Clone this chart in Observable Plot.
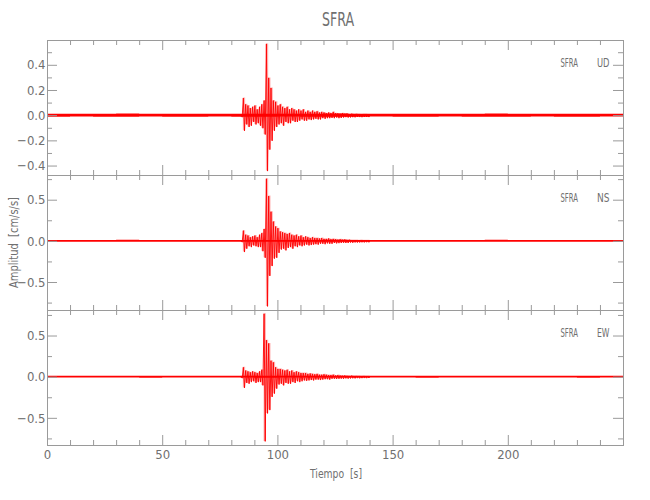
<!DOCTYPE html>
<html><head><meta charset="utf-8">
<script src="https://cdn.jsdelivr.net/npm/d3@7"></script>
<script src="https://cdn.jsdelivr.net/npm/@observablehq/plot@0.6"></script>
<style>
body{margin:0;background:#fff;}
#wrap{position:relative;width:650px;height:500px;overflow:hidden;}
#wrap svg{position:absolute;left:0;}
</style></head><body><div id="wrap"></div>
<script>
const station = "SFRA";
const components = ["UD", "NS", "EW"];
const xTitle = "Tiempo  [s]";
const yTitle = "Amplitud  [cm/s/s]";

// signed peak values read every 0.5 s from 84 s to 140 s
const eventStart = 84, eventStep = 0.5;
const udValues = [
  0.010,-0.012,
  0.14,-0.12,0.09,-0.07,0.08,-0.09,0.06,-0.08,0.07,-0.05,
  0.08,-0.07,0.05,-0.06,0.07,-0.08,0.09,-0.10,0.12,-0.15,
  0.57,-0.44,0.30,-0.27,0.22,-0.20,0.12,-0.12,0.11,-0.09,
  0.08,-0.07,0.09,-0.06,0.07,-0.08,0.06,-0.05,0.07,-0.06,
  0.05,-0.06,0.06,-0.04,0.05,-0.05,0.04,-0.05,0.05,-0.04,
  0.04,-0.03,0.05,-0.04,0.03,-0.04,0.04,-0.03,0.03,-0.035,
  0.04,-0.03,0.03,-0.025,0.035,-0.03,0.025,-0.03,0.03,-0.02,
  0.025,-0.025,0.02,-0.02,0.025,-0.02,0.02,-0.018,0.03,-0.02,
  0.02,-0.015,0.018,-0.02,0.015,-0.018,0.02,-0.015,0.015,-0.012,
  0.018,-0.015,0.012,-0.014,0.015,-0.012,0.012,-0.013,0.014,-0.010,
  0.012,-0.011,0.010,-0.012,0.011,-0.010,0.012,-0.010,0.010,-0.011,
  0.010
];
const nsValues = [
  0.010,-0.010,
  0.13,-0.13,0.08,-0.09,0.07,-0.06,0.05,-0.07,0.06,-0.05,
  0.07,-0.06,0.05,-0.07,0.08,-0.07,0.10,-0.12,0.15,-0.20,
  0.76,-0.79,0.55,-0.42,0.36,-0.30,0.24,-0.21,0.18,-0.20,
  0.16,-0.14,0.12,-0.10,0.11,-0.09,0.10,-0.11,0.09,-0.08,
  0.10,-0.07,0.08,-0.09,0.07,-0.06,0.08,-0.07,0.06,-0.05,
  0.07,-0.06,0.05,-0.05,0.06,-0.04,0.05,-0.05,0.04,-0.045,
  0.05,-0.04,0.04,-0.035,0.04,-0.04,0.035,-0.03,0.04,-0.03,
  0.03,-0.035,0.03,-0.025,0.035,-0.03,0.025,-0.03,0.03,-0.02,
  0.025,-0.025,0.02,-0.022,0.025,-0.02,0.02,-0.018,0.022,-0.02,
  0.018,-0.02,0.02,-0.015,0.016,-0.018,0.015,-0.014,0.016,-0.015,
  0.013,-0.014,0.015,-0.012,0.012,-0.013,0.013,-0.011,0.012,-0.012,
  0.010
];
const ewValues = [
  0.010,-0.012,
  0.12,-0.13,0.08,-0.07,0.07,-0.08,0.06,-0.06,0.07,-0.05,
  0.06,-0.07,0.05,-0.06,0.07,-0.06,0.09,-0.10,0.77,-0.78,
  0.45,-0.44,0.41,-0.40,0.20,-0.24,0.18,-0.20,0.12,-0.14,
  0.10,-0.09,0.10,-0.08,0.09,-0.10,0.08,-0.07,0.09,-0.08,
  0.07,-0.08,0.08,-0.06,0.06,-0.07,0.07,-0.05,0.06,-0.06,
  0.05,-0.05,0.05,-0.04,0.05,-0.045,0.04,-0.04,0.045,-0.035,
  0.04,-0.04,0.035,-0.03,0.04,-0.03,0.03,-0.035,0.03,-0.03,
  0.035,-0.025,0.03,-0.025,0.025,-0.03,0.025,-0.02,0.03,-0.02,
  0.02,-0.022,0.025,-0.02,0.02,-0.018,0.018,-0.02,0.02,-0.015,
  0.016,-0.018,0.015,-0.016,0.018,-0.014,0.014,-0.015,0.015,-0.012,
  0.013,-0.014,0.012,-0.012,0.013,-0.011,0.011,-0.012,0.012,-0.010,
  0.010
];

// background noise half-width per 10 s bin (0-250 s)
const noiseStep = 10;
const udNoise = [0.012,0.011,0.012,0.013,0.011,0.012,0.012,0.011,0.012,0.012,0.011,0.012,0.013,0.012,0.011,0.012,0.012,0.011,0.012,0.013,0.012,0.011,0.012,0.012,0.011];
const nsNoise = [0.011,0.010,0.011,0.012,0.010,0.011,0.011,0.010,0.011,0.011,0.010,0.011,0.012,0.011,0.010,0.011,0.011,0.010,0.011,0.012,0.011,0.010,0.011,0.011,0.010];
const ewNoise = [0.011,0.011,0.010,0.011,0.012,0.011,0.010,0.011,0.011,0.012,0.011,0.010,0.011,0.011,0.010,0.011,0.012,0.011,0.010,0.011,0.011,0.010,0.011,0.012,0.011];

const xDomain = [0, 250];
const xMajor = [0, 50, 100, 150, 200];
const xMinor = [10,20,30,40,60,70,80,90,110,120,130,140,160,170,180,190,210,220,230,240];
const yDomains = [[-0.475, 0.597], [-0.84, 0.80], [-0.83, 0.81]];
const yMajor = [[-0.4,-0.2,0.0,0.2,0.4], [-0.5,0.0,0.5], [-0.5,0.0,0.5]];
const yMinor = [[-0.3,-0.1,0.1,0.3,0.5], [-0.75,-0.25,0.25,0.75], [-0.75,-0.25,0.25,0.75]];

const traces = [udValues, nsValues, ewValues];
const noises = [udNoise, nsNoise, ewNoise];

const W = 650, ML = 47, MR = 27, PH = 135;
const tops = [40, 175, 310];
const lineCol = "#9a9a9a", textCol = "#707070", red = "#ff0000";
const font = "'Liberation Sans Narrow','DejaVu Sans Condensed','Roboto Condensed',sans-serif";
const wrap = document.getElementById("wrap");

traces.forEach((vals, i) => {
  const rows = vals.map((v, k) => ({t: eventStart + k * eventStep, v}));
  // min/max per 1 s bin from consecutive peak pairs
  const env = [];
  for (let k = 0; k + 1 < vals.length; k += 2) {
    env.push({t: rows[k].t, lo: Math.min(vals[k], vals[k+1]), hi: Math.max(vals[k], vals[k+1])});
  }
  env.push({t: rows[rows.length-1].t, lo: env[env.length-1].lo, hi: env[env.length-1].hi});
  const nz = noises[i].map((a, k) => ({t: k * noiseStep, lo: -a, hi: a}));
  nz.push({t: xDomain[1], lo: nz[nz.length-1].lo, hi: nz[nz.length-1].hi});
  const last = i === 2;
  const MB = last ? 55 : 0;
  const marks = [
    Plot.areaY(nz, {x: "t", y1: "lo", y2: "hi", curve: "step-after", fill: red, clip: true}),
    Plot.areaY(env, {x: "t", y1: "lo", y2: "hi", curve: "step-after", fill: red, fillOpacity: 0.3, clip: true}),
    Plot.line(rows, {x: "t", y: "v", stroke: red, strokeWidth: 0.9, clip: true}),
    Plot.frame({stroke: lineCol}),
    Plot.ruleX(xMajor, {insetTop: PH - 10, stroke: lineCol}),
    Plot.ruleX(xMajor, {insetBottom: PH - 10, stroke: lineCol}),
    Plot.ruleX(xMinor, {insetTop: PH - 5, stroke: lineCol}),
    Plot.ruleX(xMinor, {insetBottom: PH - 5, stroke: lineCol}),
    Plot.ruleY(yMajor[i], {insetRight: W - ML - MR - 10, stroke: lineCol}),
    Plot.ruleY(yMajor[i], {insetLeft: W - ML - MR - 10, stroke: lineCol}),
    Plot.ruleY(yMinor[i], {insetRight: W - ML - MR - 5, stroke: lineCol}),
    Plot.ruleY(yMinor[i], {insetLeft: W - ML - MR - 5, stroke: lineCol}),
    Plot.axisY(yMajor[i], {anchor: "left", tickSize: 0, tickPadding: 2, tickFormat: d3.format(".1f"), label: null, fill: textCol})
  ];
  if (last) marks.push(Plot.axisX(xMajor, {anchor: "bottom", tickSize: 0, tickPadding: 4, label: null, fill: textCol}));
  const svg = Plot.plot({
    width: W, height: PH + MB,
    marginLeft: ML, marginRight: MR, marginTop: 0, marginBottom: MB,
    x: {domain: xDomain, axis: null},
    y: {domain: yDomains[i], axis: null},
    style: {fontFamily: font, fontSize: "13px", color: textCol, background: "transparent", overflow: "visible"},
    marks
  });
  svg.style.top = tops[i] + "px";
  wrap.appendChild(svg);
});

// titles and panel labels
const ov = d3.select(wrap).append("svg")
  .attr("width", W).attr("height", 500)
  .style("top", "0px").style("pointer-events", "none")
  .style("font-family", font);
function label(txt, x, y, size, len, anchor, rot) {
  const t = ov.append("text").text(txt)
    .attr("x", x).attr("y", y)
    .attr("font-size", size).attr("fill", textCol)
    .attr("text-anchor", anchor)
    .style("white-space", "pre");
  if (len) t.attr("textLength", len).attr("lengthAdjust", "spacingAndGlyphs");
  if (rot) t.attr("transform", `rotate(${rot},${x},${y})`);
  return t;
}
label(station, 338, 26, 20, 32, "middle");
components.forEach((c, i) => {
  label(station, 578, tops[i] + 27, 13, 17.5, "end");
  label(c, 609.5, tops[i] + 27, 13, 12.5, "end");
});
label(xTitle, 336, 478, 13, 52, "middle");
label(yTitle, 18, 242.5, 13, 91, "middle", -90);
</script></body></html>
